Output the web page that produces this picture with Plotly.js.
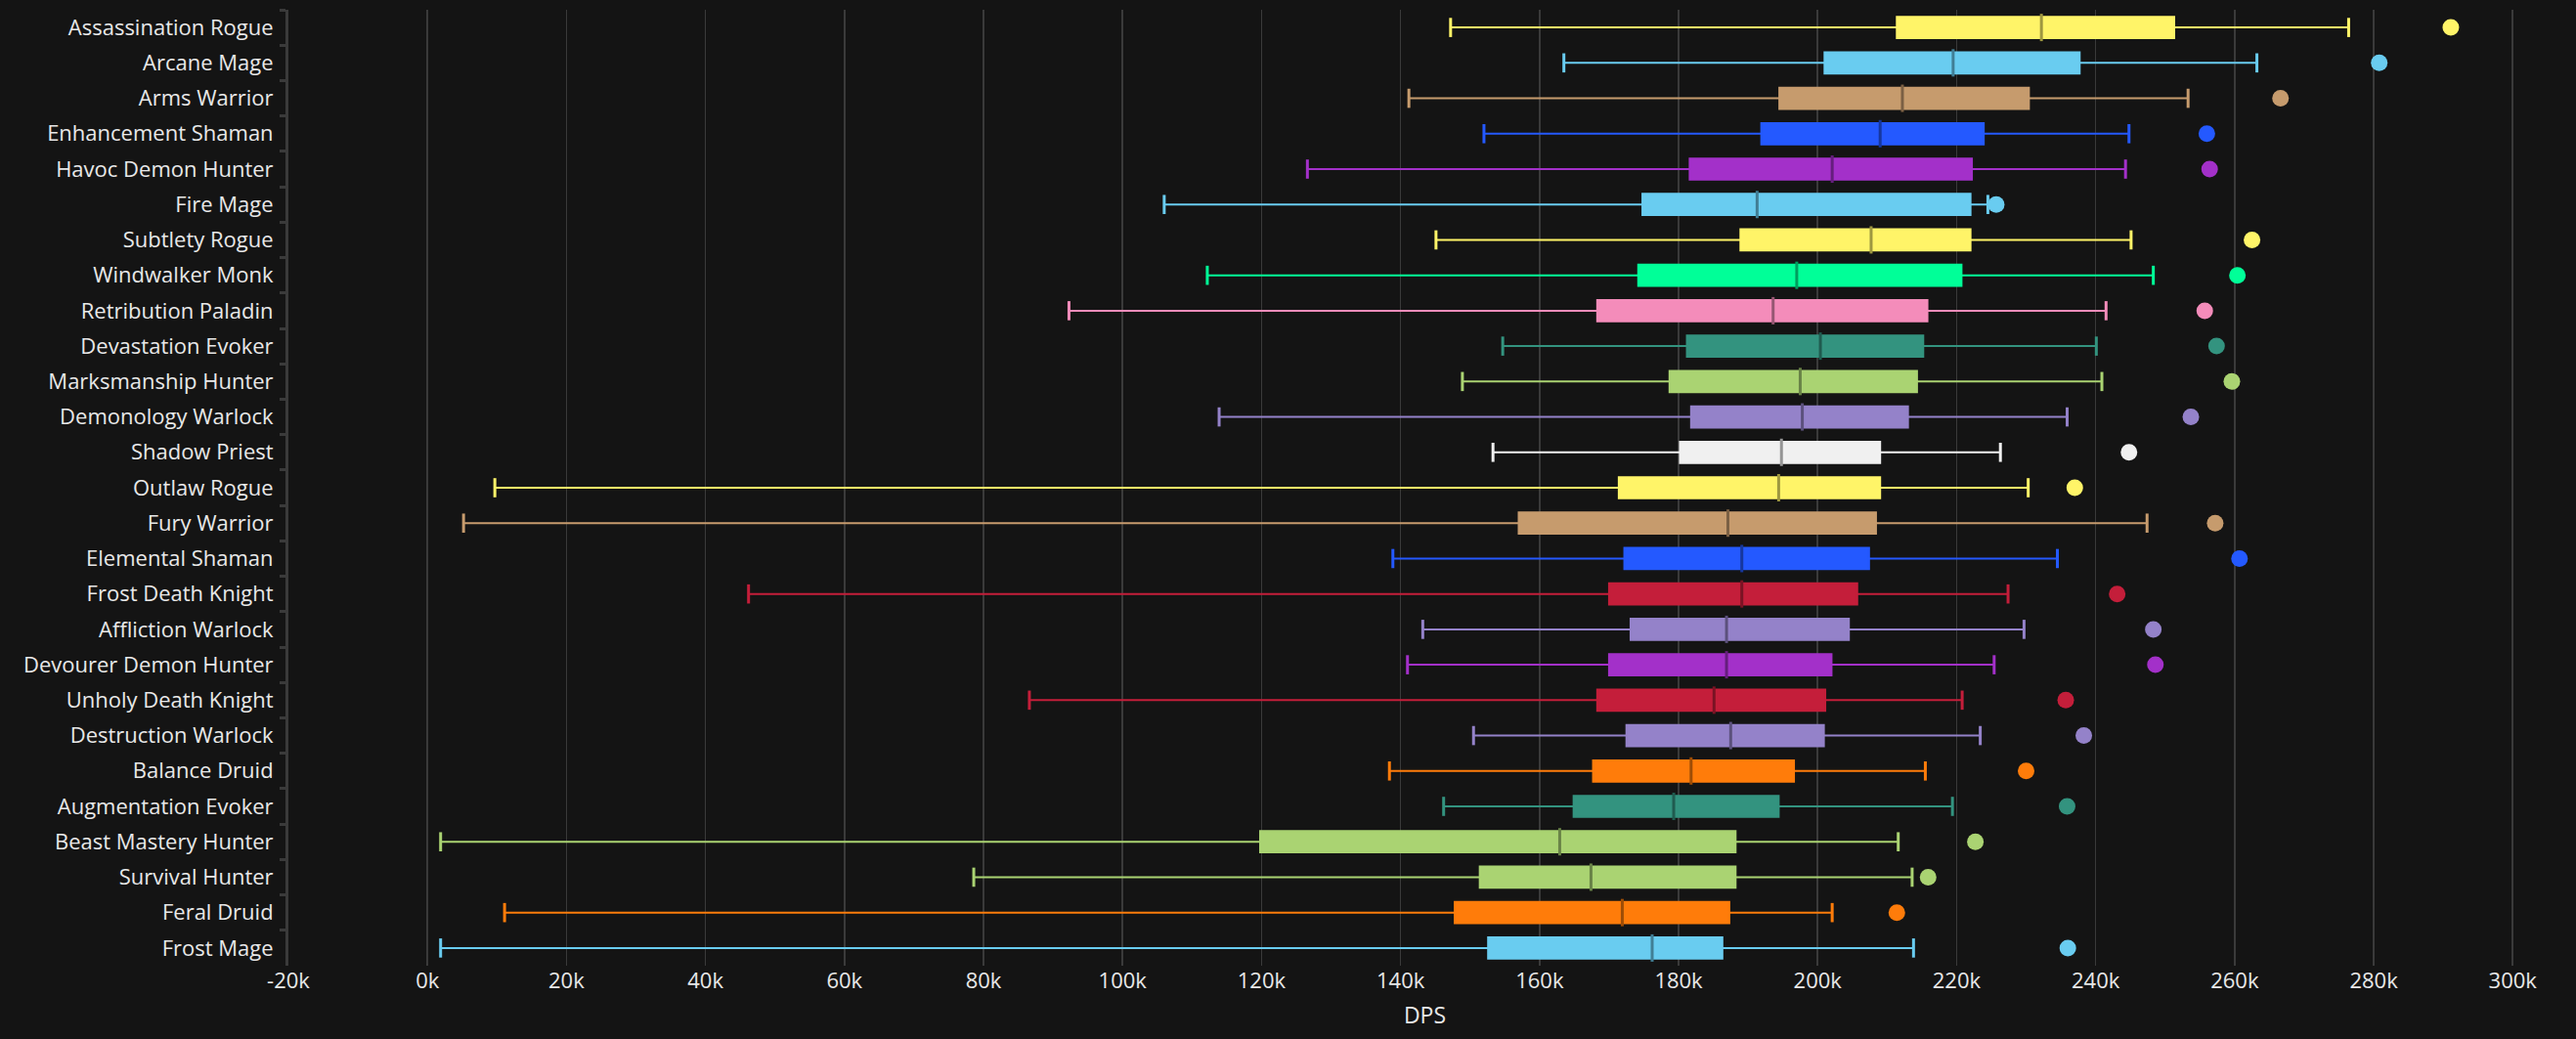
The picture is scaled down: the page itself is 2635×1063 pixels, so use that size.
<!DOCTYPE html>
<html><head><meta charset="utf-8">
<script src="https://cdn.plot.ly/plotly-3.0.1.min.js"></script>
<style>html,body{margin:0;padding:0;background:#141414;}#c{width:2635px;height:1063px;}</style>
</head><body><div id="c"></div>
<script>
const specs = ["Assassination Rogue","Arcane Mage","Arms Warrior","Enhancement Shaman","Havoc Demon Hunter","Fire Mage","Subtlety Rogue","Windwalker Monk","Retribution Paladin","Devastation Evoker","Marksmanship Hunter","Demonology Warlock","Shadow Priest","Outlaw Rogue","Fury Warrior","Elemental Shaman","Frost Death Knight","Affliction Warlock","Devourer Demon Hunter","Unholy Death Knight","Destruction Warlock","Balance Druid","Augmentation Evoker","Beast Mastery Hunter","Survival Hunter","Feral Druid","Frost Mage"];
const lowWhisker = [147.2,163.5,141.2,152,126.6,106,145.1,112.2,92.3,154.7,148.9,113.9,153.3,9.7,5.2,138.9,46.2,143.2,141,86.6,150.5,138.4,146.2,1.9,78.6,11.1,1.9];
const q1 = [211.4,201,194.5,191.9,181.6,174.8,188.9,174.2,168.3,181.2,178.7,181.8,180.2,171.4,157,172.2,170,173.1,170,168.3,172.5,167.7,164.9,119.8,151.4,147.8,152.6];
const median = [232.2,219.5,212.2,209,202.1,191.3,207.7,197,193.6,200.4,197.5,197.8,194.8,194.4,187.1,189.1,189.1,186.9,186.9,185.1,187.5,181.8,179.3,162.9,167.4,171.9,176.2];
const q3 = [251.3,237.7,230.4,223.9,222.2,222,222,220.7,215.8,215.2,214.3,213,209,209,208.4,207.4,205.7,204.5,202,201.1,200.9,196.6,194.4,188.2,188.2,187.3,186.3];
const highWhisker = [276.4,263.2,253.3,244.8,244.3,224.5,245.1,248.3,241.5,240.1,240.9,235.9,226.3,230.3,247.4,234.5,227.4,229.7,225.4,220.8,223.4,215.5,219.4,211.6,213.6,202.1,213.8];
const maxDps = [291.1,280.8,266.6,256,256.4,225.7,262.5,260.4,255.7,257.4,259.6,253.7,244.8,237,257.2,260.7,243.1,248.3,248.6,235.7,238.3,230,235.9,222.7,215.9,211.4,236];
const colors = ["#FFF468","#69CCF0","#C69B6D","#2459FF","#A330C9","#69CCF0","#FFF468","#00FF98","#F48CBA","#33937F","#AAD372","#9482C9","#F0F0F0","#FFF468","#C69B6D","#2459FF","#C41E3A","#9482C9","#A330C9","#C41E3A","#9482C9","#FF7C0A","#33937F","#AAD372","#AAD372","#FF7C0A","#69CCF0"];
const tickVals = [-20,0,20,40,60,80,100,120,140,160,180,200,220,240,260,280,300];

function darken(h,f){const n=parseInt(h.slice(1),16);const r=Math.round(((n>>16)&255)*f),g=Math.round(((n>>8)&255)*f),b=Math.round((n&255)*f);return `rgb(${r},${g},${b})`;}
const K=v=>v*1000;
const traces=[];
specs.forEach((s,i)=>{
  traces.push({type:'box',orientation:'h',y:[s],q1:[K(q1[i])],median:[K(median[i])],q3:[K(q3[i])],
    lowerfence:[K(lowWhisker[i])],upperfence:[K(highWhisker[i])],
    fillcolor:colors[i],line:{color:colors[i],width:2},width:0.6,whiskerwidth:0,boxpoints:false,showlegend:false,hoverinfo:'skip'});
});
traces.push({type:'scatter',mode:'markers',y:specs,x:median.map(K),marker:{symbol:'line-ns',size:20,line:{width:3,color:colors.map(c=>darken(c,0.62))}},showlegend:false,hoverinfo:'skip'});
traces.push({type:'scatter',mode:'markers',y:specs.concat(specs),x:lowWhisker.concat(highWhisker).map(K),marker:{symbol:'line-ns',size:14,line:{width:3,color:colors.concat(colors)}},showlegend:false,hoverinfo:'skip'});
traces.push({type:'scatter',mode:'markers',y:specs,x:maxDps.map(K),marker:{symbol:'circle',size:17,color:colors},showlegend:false,hoverinfo:'skip'});

const layout={width:2635,height:1063,paper_bgcolor:'#141414',plot_bgcolor:'#141414',
  margin:{l:295,r:15,t:10,b:75},
  font:{family:'Liberation Sans Narrow, Open Sans, sans-serif',color:'#e8e8e8',size:22},
  xaxis:{range:[-20000,307000],tickvals:tickVals.map(K),ticktext:tickVals.map(v=>v+'k'),gridcolor:'#3a3a3a',gridwidth:1.5,zeroline:false,
    title:{text:'DPS',font:{size:23,color:'#e8e8e8'},standoff:14},tickfont:{size:22},showline:false},
  yaxis:{type:'category',categoryorder:'array',categoryarray:specs,range:[26.5,-0.5],autorange:false,showgrid:false,zeroline:false,
    showline:true,linecolor:'#3a3a3a',linewidth:3,ticks:'outside',tickcolor:'#3a3a3a',ticklen:6,tickwidth:3,tickson:'boundaries',tickfont:{size:22},ticklabelstandoff:8}
};
Plotly.newPlot('c',traces,layout,{staticPlot:true});
</script></body></html>
